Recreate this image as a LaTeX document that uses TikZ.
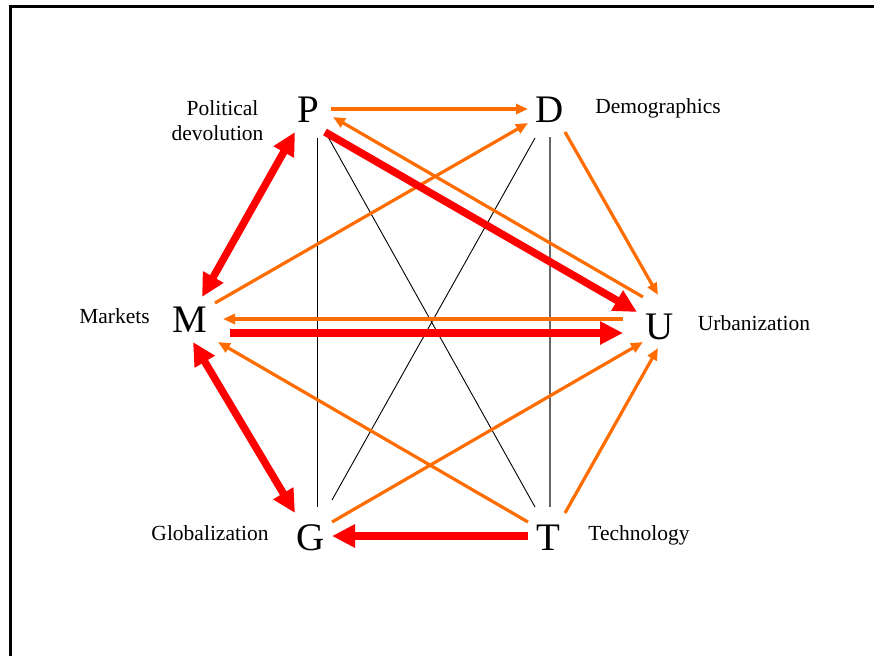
\documentclass[tikz,border=0pt]{standalone}
\usepackage{fontspec}
\setmainfont{Liberation Serif}
\usetikzlibrary{arrows.meta}
\definecolor{orng}{RGB}{255,108,0}
\definecolor{rd}{RGB}{255,0,0}
\begin{document}
\begin{tikzpicture}[x=1pt,y=-1pt,
  letter/.style={inner sep=0pt,anchor=base,font=\fontsize{39}{39}\selectfont},
  lbl/.style={inner sep=0pt,anchor=base,font=\fontsize{21.5}{25}\selectfont},
  oarr/.style={draw=orng,line width=3.2pt,-{Triangle[length=12pt,width=10pt]}},
  rarr/.style={draw=rd,line width=7.5pt,-{Triangle[length=23pt,width=22pt]}},
  rboth/.style={draw=rd,line width=7.5pt,{Triangle[length=23pt,width=22pt]}-{Triangle[length=23pt,width=22pt]}},
  thinline/.style={draw=black,line width=0.9pt},
  grayline/.style={draw=black!60,line width=1.2pt}]
\useasboundingbox (0,0) rectangle (874,656);
\draw[line width=3pt] (874,6.5) -- (10.5,6.5) -- (10.5,656);

% letter nodes
\node[letter] (P) at (308,122) {P};
\node[letter] (D) at (550,122) {D};
\node[letter] (M) at (190,332) {M};
\node[letter] (U) at (660,339) {U};
\node[letter] (G) at (311,550) {G};
\node[letter] (T) at (548,550) {T};

% labels
\node[lbl] (pol1) at (222.5,115) {Political};
\node[lbl] (pol2) at (217.5,140) {devolution};
\node[lbl] (dem) at (658,113) {Demographics};
\node[lbl] (mkt) at (114.5,323) {Markets};
\node[lbl] (urb) at (754,330) {Urbanization};
\node[lbl] (glo) at (210,540) {Globalization};
\node[lbl] (tec) at (639,540) {Technology};

% thin black lines
\draw[thinline] ([shift={(9,16)}]P.base) -- ([shift={(6,-43)}]G.base);
\draw[grayline] ([shift={(0,15)}]D.base) -- ([shift={(2,-43)}]T.base);
\draw[thinline] ([shift={(19,13)}]P.base) -- ([shift={(-13,-43)}]T.base);
\draw[thinline] ([shift={(-15,16)}]D.base) -- ([shift={(21,-50)}]G.base);

% orange arrows
\draw[oarr] ([shift={(23,-13)}]P.base) -- ([shift={(-22,-13)}]D.base);
\draw[oarr] ([shift={(-17,-42)}]U.base) -- ([shift={(25,-5)}]P.base);
\draw[oarr] ([shift={(25,-29)}]M.base) -- ([shift={(-22,1)}]D.base);
\draw[oarr] ([shift={(15,10)}]D.base) -- ([shift={(-2,-44)}]U.base);
\draw[oarr] ([shift={(-37,-20)}]U.base) -- ([shift={(33,-13)}]M.base);
\draw[oarr] ([shift={(-20,-28)}]T.base) -- ([shift={(28,10)}]M.base);
\draw[oarr] ([shift={(21,-28)}]G.base) -- ([shift={(-17,3)}]U.base);
\draw[oarr] ([shift={(17,-37)}]T.base) -- ([shift={(-2,9)}]U.base);

% red arrows
\draw[rarr] ([shift={(17,10)}]P.base) -- ([shift={(-23,-27)}]U.base);
\draw[rarr] ([shift={(40,1)}]M.base) -- ([shift={(-37,-6)}]U.base);
\draw[rboth] ([shift={(-13,10)}]P.base) -- ([shift={(12,-35)}]M.base);
\draw[rboth] ([shift={(3,10)}]M.base) -- ([shift={(-16,-37)}]G.base);
\draw[rarr] ([shift={(-20,-14)}]T.base) -- ([shift={(21,-14)}]G.base);
\end{tikzpicture}
\end{document}
